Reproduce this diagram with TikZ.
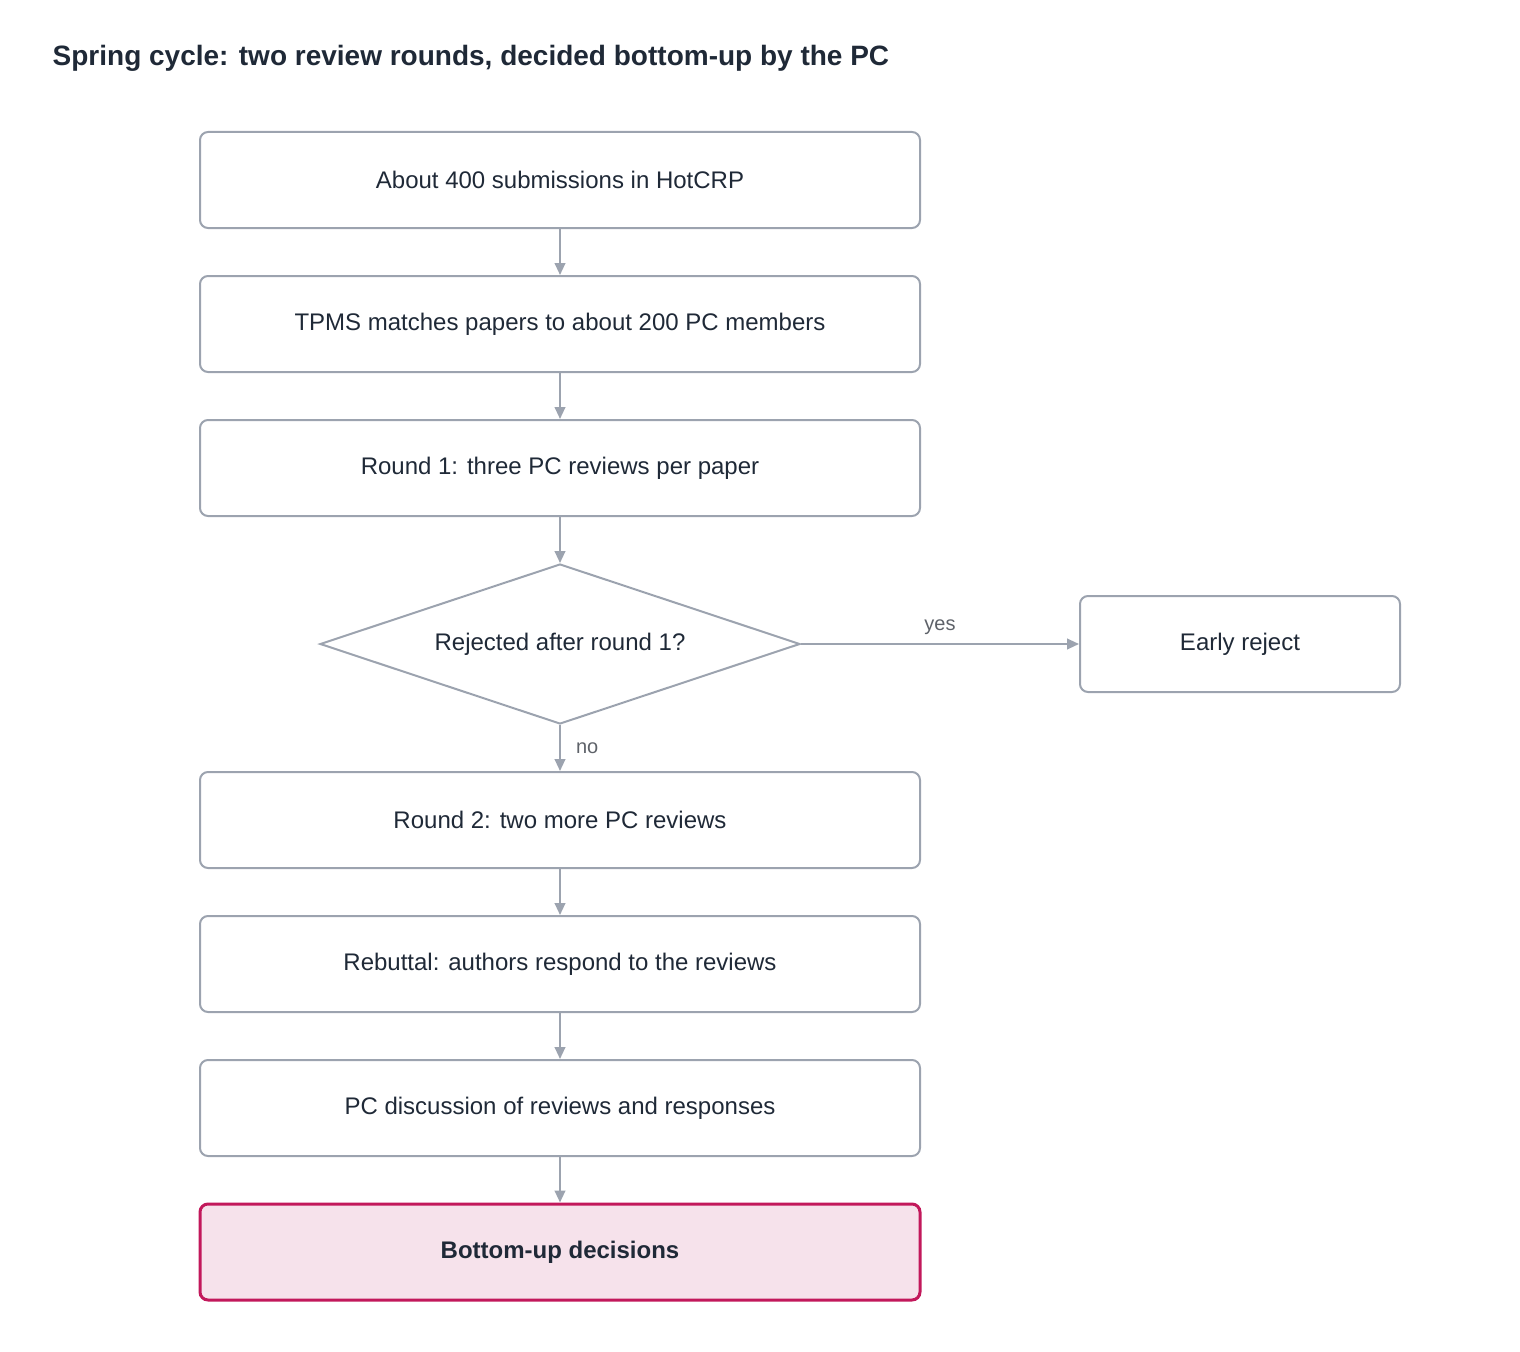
\documentclass[tikz,border=0pt]{standalone}
\usepackage{fontspec}
\setmainfont{Liberation Sans}
\usetikzlibrary{shapes.geometric,arrows.meta}
\definecolor{edge}{HTML}{9CA3AF}
\definecolor{ink}{HTML}{1F2937}
\definecolor{hot}{HTML}{C2185B}
\definecolor{hotfill}{HTML}{F6E2EB}
\begin{document}
\begin{tikzpicture}[x=0.75pt,y=-0.75pt,
  box/.style={draw=edge,line width=1.5pt,rounded corners=6pt,minimum width=540pt,minimum height=72pt,text=ink,font=\fontsize{18}{22}\selectfont},
  dia/.style={draw=edge,line width=1.5pt,diamond,shape aspect=3,inner sep=0pt,minimum width=360pt,minimum height=120pt,text=ink,font=\fontsize{18}{22}\selectfont},
  arr/.style={draw=edge,line width=1.5pt,-{Triangle[length=9pt,width=8pt]}},
  lab/.style={text=edge!60!black,font=\fontsize{15}{18}\selectfont}]
\useasboundingbox (0,0) rectangle (1520,1352);
\node[anchor=west,text=ink,font=\bfseries\fontsize{21}{25}\selectfont] (title) at (48,58) {Spring cycle: two review rounds, decided bottom-up by the PC};
\node[box] (a) at (560,180) {About 400 submissions in HotCRP};
\node[box] (b) at (560,324) {TPMS matches papers to about 200 PC members};
\node[box] (c) at (560,468) {Round 1: three PC reviews per paper};
\node[dia] (d) at (560,644) {Rejected after round 1?};
\node[box,minimum width=240pt] (e) at (1240,644) {Early reject};
\node[box] (f) at (560,820) {Round 2: two more PC reviews};
\node[box] (g) at (560,964) {Rebuttal: authors respond to the reviews};
\node[box] (h) at (560,1108) {PC discussion of reviews and responses};
\node[box,draw=hot,fill=hotfill,line width=2.25pt,font=\bfseries\fontsize{18}{22}\selectfont] (i) at (560,1252) {Bottom-up decisions};
\draw[arr] (a) -- (b);
\draw[arr] (b) -- (c);
\draw[arr] (c) -- (d);
\draw[arr] (d) -- node[lab,above,pos=0.5,yshift=3pt]{yes} (e);
\draw[arr] (d) -- node[lab,right,pos=0.5,xshift=8pt]{no} (f);
\draw[arr] (f) -- (g);
\draw[arr] (g) -- (h);
\draw[arr] (h) -- (i);
\end{tikzpicture}
\end{document}
